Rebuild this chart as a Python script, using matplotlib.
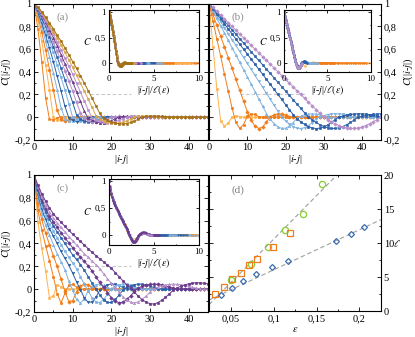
import matplotlib
matplotlib.use("Agg")
import matplotlib.pyplot as plt
from matplotlib.ticker import MultipleLocator, FuncFormatter
import numpy as np

plt.rcParams['font.family'] = ['Liberation Serif', 'DejaVu Serif']
plt.rcParams['mathtext.fontset'] = 'stix'
plt.rcParams['axes.unicode_minus'] = False
plt.rcParams['font.size'] = 7.5

dist = np.arange(46)  # |i-j|

# ---- panel (a): C(|i-j|), one list per epsilon
ca1 = [1, .78, .49, .17, -.02, -.025, -.005, 0, 0, 0,
       0, 0, 0, 0, 0, 0, 0, 0, 0, 0, 0, 0, 0, 0, 0, 0, 0, 0, 0, 0,
       0, 0, 0, 0, 0, 0, 0, 0, 0, 0, 0, 0, 0, 0, 0, 0]
ca2 = [1, .86, .67, .46, .24, 0, -.026, -.026, -.005, 0,
       0, 0, 0, 0, 0, 0, 0, 0, 0, 0, 0, 0, 0, 0, 0, 0, 0, 0, 0, 0,
       0, 0, 0, 0, 0, 0, 0, 0, 0, 0, 0, 0, 0, 0, 0, 0]
ca3 = [1, .89, .75, .59, .42, .24, .06, -.02, -.035, -.027,
       -.005, 0, 0, 0, 0, 0, 0, 0, 0, 0, 0, 0, 0, 0, 0, 0, 0, 0, 0, 0,
       0, 0, 0, 0, 0, 0, 0, 0, 0, 0, 0, 0, 0, 0, 0, 0]
ca4 = [1, .91, .80, .67, .53, .39, .24, .08, -.012, -.03,
       -.035, -.022, -.004, 0, 0, 0, 0, 0, 0, 0, 0, 0, 0, 0, 0, 0, 0, 0, 0, 0,
       0, 0, 0, 0, 0, 0, 0, 0, 0, 0, 0, 0, 0, 0, 0, 0]
ca5 = [1, .925, .83, .72, .61, .49, .36, .23, .095, -.007,
       -.028, -.039, -.037, -.022, -.004, 0, 0, 0, 0, 0, 0, 0, 0, 0, 0, 0, 0, 0, 0, 0,
       0, 0, 0, 0, 0, 0, 0, 0, 0, 0, 0, 0, 0, 0, 0, 0]
ca6 = [1, .94, .86, .76, .67, .57, .46, .35, .24, .12,
       0, -.02, -.035, -.04, -.035, -.02, -.004, .002, 0, 0, 0, 0, 0, 0, 0, 0, 0, 0, 0, 0,
       0, 0, 0, 0, 0, 0, 0, 0, 0, 0, 0, 0, 0, 0, 0, 0]
ca7 = [1, .945, .87, .80, .71, .62, .53, .43, .33, .23,
       .13, .02, -.016, -.034, -.044, -.044, -.035, -.019, -.003, .003,
       .004, 0, 0, 0, 0, 0, 0, 0, 0, 0,
       0, 0, 0, 0, 0, 0, 0, 0, 0, 0, 0, 0, 0, 0, 0, 0]
ca8 = [1, .95, .89, .82, .74, .66, .58, .50, .41, .32,
       .23, .13, .04, -.011, -.028, -.04, -.045, -.042, -.032, -.015,
       -.002, .004, .006, .004, 0, 0, 0, 0, 0, 0,
       0, 0, 0, 0, 0, 0, 0, 0, 0, 0, 0, 0, 0, 0, 0, 0]
ca9 = [1, .955, .90, .84, .77, .70, .63, .55, .47, .39,
       .31, .225, .14, .053, -.008, -.024, -.039, -.048, -.05, -.043,
       -.032, -.014, 0, .006, .008, .006, .003, 0, 0, 0,
       0, 0, 0, 0, 0, 0, 0, 0, 0, 0, 0, 0, 0, 0, 0, 0]
ca10 = [1, .96, .91, .85, .79, .73, .66, .59, .52, .45,
        .38, .30, .22, .145, .065, -.003, -.021, -.035, -.045, -.05,
        -.048, -.04, -.028, -.012, 0, .006, .009, .008, .005, .002,
        0, 0, 0, 0, 0, 0, 0, 0, 0, 0, 0, 0, 0, 0, 0, 0]
ca11 = [1, .965, .92, .87, .81, .755, .70, .635, .57, .505,
        .44, .37, .30, .233, .16, .088, .014, -.014, -.031, -.043,
        -.052, -.055, -.052, -.045, -.032, -.015, 0, .007, .01, .009,
        .006, .003, 0, 0, 0, 0, 0, 0, 0, 0, 0, 0, 0, 0, 0, 0]
ca12 = [1, .97, .93, .88, .83, .78, .72, .67, .61, .55,
        .49, .43, .365, .30, .235, .17, .10, .035, -.009, -.026,
        -.04, -.052, -.058, -.06, -.056, -.047, -.034, -.018, 0, .007,
        .01, .011, .009, .006, .003, 0, 0, 0, 0, 0, 0, 0, 0, 0, 0, 0]
ell_a = [3.5, 5, 6.3, 7.5, 8.7, 10, 11.2, 12.4, 13.6, 14.8, 16.2, 17.5]

# ---- panel (b)
cb1 = [1, .62, .25, -.03, -.08, -.05, 0, .01, .005, 0,
       0, 0, 0, 0, 0, 0, 0, 0, 0, 0, 0, 0, 0, 0, 0, 0, 0, 0, 0, 0,
       0, 0, 0, 0, 0, 0, 0, 0, 0, 0, 0, 0, 0, 0, 0, 0]
cb2 = [1, .85, .69, .54, .38, .23, .08, -.047, -.099, -.066,
       .008, .028, .025, .005, 0, 0, 0, 0, 0, 0, 0, 0, 0, 0, 0, 0, 0, 0, 0, 0,
       0, 0, 0, 0, 0, 0, 0, 0, 0, 0, 0, 0, 0, 0, 0, 0]
cb3 = [1, .905, .81, .714, .62, .524, .43, .333, .238, .143,
       .048, -.029, -.078, -.10, -.087, -.043, .005, .02, .03, .028,
       .017, .003, 0, 0, 0, 0, 0, 0, 0, 0,
       0, 0, 0, 0, 0, 0, 0, 0, 0, 0, 0, 0, 0, 0, 0, 0]
cb4 = [1, .935, .871, .806, .742, .677, .613, .548, .484, .419,
       .355, .29, .226, .161, .097, .032, -.02, -.057, -.085, -.099,
       -.097, -.079, -.048, -.01, .009, .02, .027, .03, .028, .022,
       .012, .002, 0, 0, 0, 0, 0, 0, 0, 0, 0, 0, 0, 0, 0, 0]
cb5 = [1, .947, .895, .842, .789, .737, .684, .632, .579, .526,
       .474, .421, .368, .316, .263, .211, .158, .105, .053, 0,
       -.032, -.061, -.084, -.097, -.1, -.092, -.074, -.048, -.016, .005,
       .014, .022, .028, .03, .029, .026, .018, .01, .002, 0,
       0, 0, 0, 0, 0, 0]
cb6 = [1, .956, .911, .867, .822, .778, .733, .689, .644, .6,
       .556, .511, .467, .422, .378, .333, .289, .244, .2, .156,
       .111, .067, .022, -.014, -.041, -.064, -.083, -.095, -.1, -.097,
       -.087, -.069, -.047, -.021, .002, .01, .018, .024, .028, .03,
       .029, .027, .022, .016, .008, 0]
cb7 = [1, .962, .923, .885, .846, .808, .769, .731, .692, .654,
       .615, .577, .538, .5, .462, .423, .385, .346, .308, .269,
       .231, .192, .154, .115, .077, .038, 0, -.024, -.047, -.066,
       -.082, -.093, -.099, -.099, -.094, -.083, -.066, -.047, -.024, 0,
       .007, .014, .02, .025, .028, .03]
cb8 = [1, .967, .933, .9, .867, .833, .8, .767, .733, .7,
       .667, .633, .6, .567, .533, .5, .467, .433, .4, .367,
       .333, .3, .267, .233, .2, .167, .133, .1, .067, .033,
       0, -.021, -.041, -.059, -.074, -.087, -.095, -.099, -.099, -.095,
       -.087, -.074, -.059, -.041, -.021, 0]
ell_b = [2.1, 4.8, 7.8, 11.5, 14.1, 16.7, 19.3, 22.2]

# ---- panel (c)
cc1 = [1, .59, .36, .16, -.075, -.06, .04, .02, 0, 0,
       0, 0, 0, 0, 0, 0, 0, 0, 0, 0, 0, 0, 0, 0, 0, 0, 0, 0, 0, 0,
       0, 0, 0, 0, 0, 0, 0, 0, 0, 0, 0, 0, 0, 0, 0, 0]
cc2 = [1, .69, .52, .38, .25, .11, -.04, -.12, -.035, .033,
       .043, .017, 0, 0, 0, 0, 0, 0, 0, 0, 0, 0, 0, 0, 0, 0, 0, 0, 0, 0,
       0, 0, 0, 0, 0, 0, 0, 0, 0, 0, 0, 0, 0, 0, 0, 0]
cc3 = [1, .75, .61, .49, .39, .29, .20, .085, -.02, -.108,
       -.10, -.025, .027, .044, .039, .016, 0, 0, 0, 0, 0, 0, 0, 0, 0, 0, 0, 0, 0, 0,
       0, 0, 0, 0, 0, 0, 0, 0, 0, 0, 0, 0, 0, 0, 0, 0]
cc4 = [1, .80, .66, .56, .475, .39, .31, .24, .17, .073,
       -.01, -.09, -.12, -.085, -.015, .024, .041, .044, .034, .015,
       .002, 0, 0, 0, 0, 0, 0, 0, 0, 0,
       0, 0, 0, 0, 0, 0, 0, 0, 0, 0, 0, 0, 0, 0, 0, 0]
cc5 = [1, .83, .70, .61, .53, .465, .40, .33, .27, .21,
       .14, .064, -.003, -.075, -.114, -.112, -.071, -.01, .02, .037,
       .045, .042, .031, .016, .004, 0, 0, 0, 0, 0,
       0, 0, 0, 0, 0, 0, 0, 0, 0, 0, 0, 0, 0, 0, 0, 0]
cc6 = [1, .85, .73, .64, .57, .51, .45, .39, .33, .28,
       .23, .18, .11, .043, -.013, -.075, -.11, -.117, -.09, -.045,
       .004, .025, .038, .045, .043, .035, .022, .01, .001, 0,
       0, 0, 0, 0, 0, 0, 0, 0, 0, 0, 0, 0, 0, 0, 0, 0]
cc7 = [1, .865, .76, .675, .61, .555, .50, .45, .40, .35,
       .30, .26, .216, .167, .11, .053, .004, -.05, -.093, -.116,
       -.116, -.09, -.052, -.005, .017, .031, .041, .045, .043, .037,
       .026, .015, .006, 0, 0, 0, 0, 0, 0, 0, 0, 0, 0, 0, 0, 0]
cc8 = [1, .88, .785, .705, .64, .59, .54, .494, .45, .406,
       .363, .32, .28, .243, .205, .16, .11, .06, .015, -.03,
       -.075, -.104, -.118, -.113, -.09, -.058, -.018, .01, .025, .035,
       .042, .045, .043, .038, .029, .019, .01, .003, 0, 0,
       0, 0, 0, 0, 0, 0]
cc9 = [1, .894, .81, .736, .675, .625, .582, .54, .50, .46,
       .424, .386, .35, .31, .28, .246, .214, .18, .136, .093,
       .05, .013, -.026, -.066, -.095, -.113, -.12, -.11, -.087, -.06,
       -.026, .004, .018, .029, .037, .042, .045, .043, .04, .033,
       .025, .016, .009, .003, 0, 0]
cc10 = [1, .91, .834, .77, .71, .66, .62, .585, .55, .514,
        .482, .45, .418, .386, .355, .323, .294, .266, .24, .21,
        .183, .146, .11, .074, .038, .01, -.026, -.062, -.092, -.113,
        -.126, -.13, -.118, -.098, -.072, -.042, -.01, .012, .026, .038,
        .047, .054, .057, .056, .052, .046]
ell_c = [1.6, 2.5, 3.4, 4.3, 5.2, 6, 7, 8, 9.3, 11]

# ---- panel (d): correlation length vs epsilon
eps_dia = [0.0384, 0.052, 0.0648, 0.0798, 0.0977, 0.1167, 0.1727, 0.19, 0.2058]
ell_dia = [2.47, 3.46, 4.5, 5.53, 6.47, 7.46, 10.4, 11.36, 12.35]
eps_sq = [0.0314, 0.0419, 0.052, 0.0616, 0.0713, 0.0802, 0.0996, 0.119]
ell_sq = [2.6, 3.6, 4.7, 5.6, 6.8, 7.65, 9.5, 11.5]
eps_circ = [0.05, 0.0733, 0.0937, 0.1134, 0.134, 0.1566]
ell_circ = [4.6, 6.96, 9.43, 11.9, 14.3, 18.7]
fit_steep = (128, -2.2)    # slope, intercept
fit_flat = (59, 0.2)

OR, LOR = '#f07d1a', '#fdb24f'
BL, LBL = '#2a5ea8', '#7fb2e0'
PU, LPU = '#6b3a8c', '#b890c9'
GO, LGO = '#a36f12', '#d9a54a'
MK = ['s', 'o', 'D', '^', 'v', 'o', 's', 'D', '^', 'o', 's', 's']

curves_a = [ca1, ca2, ca3, ca4, ca5, ca6, ca7, ca8, ca9, ca10, ca11, ca12]
cols_a = [OR, LOR, OR, LBL, BL, LBL, BL, LPU, PU, LPU, LGO, GO]
curves_b = [cb1, cb2, cb3, cb4, cb5, cb6, cb7, cb8]
cols_b = [LOR, OR, OR, LBL, LBL, BL, BL, LPU]
curves_c = [cc1, cc2, cc3, cc4, cc5, cc6, cc7, cc8, cc9, cc10]
cols_c = [LOR, OR, OR, LBL, BL, LBL, BL, PU, LPU, PU]


def comma(v, pos):
    s = f"{v:.2f}".rstrip('0').rstrip('.')
    if s == '-0':
        s = '0'
    return s.replace('.', ',')


def style(ax, xmaj, xmin, ymaj, ymin, lsize=7.5):
    ax.xaxis.set_major_locator(MultipleLocator(xmaj))
    ax.xaxis.set_minor_locator(MultipleLocator(xmin))
    ax.yaxis.set_major_locator(MultipleLocator(ymaj))
    ax.yaxis.set_minor_locator(MultipleLocator(ymin))
    ax.xaxis.set_major_formatter(FuncFormatter(comma))
    ax.yaxis.set_major_formatter(FuncFormatter(comma))
    ax.tick_params(which='both', direction='in', top=True, right=True,
                   width=0.6, labelsize=lsize, pad=2)
    ax.tick_params(which='major', length=3)
    ax.tick_params(which='minor', length=1.5)
    for s in ax.spines.values():
        s.set_linewidth(0.8)


def corr_panel(ax, curves, cols, ells, dash, tag, inset_pos, right=False):
    for k, (c, col) in enumerate(zip(curves, cols)):
        ax.plot(dist[:len(c)], c, color=col, lw=0.7, marker=MK[k % len(MK)],
                ms=1.8, mew=0.4, zorder=2)
    ax.hlines(0.2, dash[0], dash[1], colors='#c8c8c8', lw=0.8,
              linestyles=(0, (3, 2)), zorder=1)
    ax.set_xlim(0, 45)
    ax.set_ylim(-0.2, 1)
    style(ax, 10, 5, 0.2, 0.1)
    ax.set_xlabel('|$i$-$j$|', labelpad=1)
    if right:
        ax.tick_params(labelleft=False, labelright=True)
        ax.yaxis.set_label_position('right')
    ax.set_ylabel('$C$(|$i$-$j$|)', labelpad=1)
    ax.text(0.13, 0.9, tag, transform=ax.transAxes, color='#909090',
            fontsize=8, ha='left', va='center')

    ins = fig.add_axes(inset_pos)
    for k, (c, col, l) in enumerate(zip(curves, cols, ells)):
        ins.plot(dist[:len(c)] / l, c, color=col, lw=0.6,
                 marker=MK[k % len(MK)], ms=1.2, mew=0.3)
    ins.set_xlim(0, 10)
    ins.set_ylim(-0.18, 1.04)
    style(ins, 5, 2.5, 0.5, 0.25, lsize=6.5)
    ins.tick_params(which='major', length=2)
    ins.tick_params(which='minor', length=1)
    ins.set_xlabel(r'|$i$-$j$|/$\ell(\varepsilon)$', fontsize=7, labelpad=0)
    ins.set_ylabel('$C$', fontsize=7, rotation=0, labelpad=5, va='center')


fig = plt.figure(figsize=(4.15, 3.37), dpi=100)

ax_a = fig.add_axes([0.082, 0.585, 0.419, 0.404])
ax_b = fig.add_axes([0.504, 0.585, 0.414, 0.404])
ax_c = fig.add_axes([0.082, 0.074, 0.419, 0.407])
ax_d = fig.add_axes([0.504, 0.076, 0.414, 0.404])

corr_panel(ax_a, curves_a, cols_a, ell_a, (14.5, 25), '(a)',
           [0.262, 0.786, 0.217, 0.184])
corr_panel(ax_b, curves_b, cols_b, ell_b, (8, 25), '(b)',
           [0.684, 0.786, 0.210, 0.184], right=True)
corr_panel(ax_c, curves_c, cols_c, ell_c, (14.5, 25), '(c)',
           [0.262, 0.273, 0.217, 0.196])

# panel (d)
xfit = np.array([0.025, 0.225])
ax_d.plot(xfit, fit_steep[0] * xfit + fit_steep[1], color='#a0a0a0',
          lw=0.8, ls=(0, (4, 2.5)))
ax_d.plot(xfit, fit_flat[0] * xfit + fit_flat[1], color='#a0a0a0',
          lw=0.8, ls=(0, (4, 2.5)))
ax_d.plot(eps_circ, ell_circ, 'o', ms=4.5, mfc='none', mec='#86cf32', mew=0.9)
ax_d.plot(eps_sq, ell_sq, 's', ms=4, mfc='none', mec=OR, mew=0.9)
ax_d.plot(eps_dia, ell_dia, 'D', ms=3, mfc='none', mec='#3a6cb0', mew=0.9)
ax_d.set_xlim(0.025, 0.225)
ax_d.set_ylim(0, 20)
style(ax_d, 0.05, 0.025, 5, 2.5)
ax_d.tick_params(labelleft=False, labelright=True)
ax_d.yaxis.set_label_position('right')
ax_d.set_ylabel(r'$\ell$', rotation=0, labelpad=2, va='center')
ax_d.set_xlabel(r'$\varepsilon$', labelpad=1)
ax_d.text(0.13, 0.89, '(d)', transform=ax_d.transAxes, color='#808080',
          fontsize=8, ha='left', va='center')

fig.savefig('out.png', dpi=100)
